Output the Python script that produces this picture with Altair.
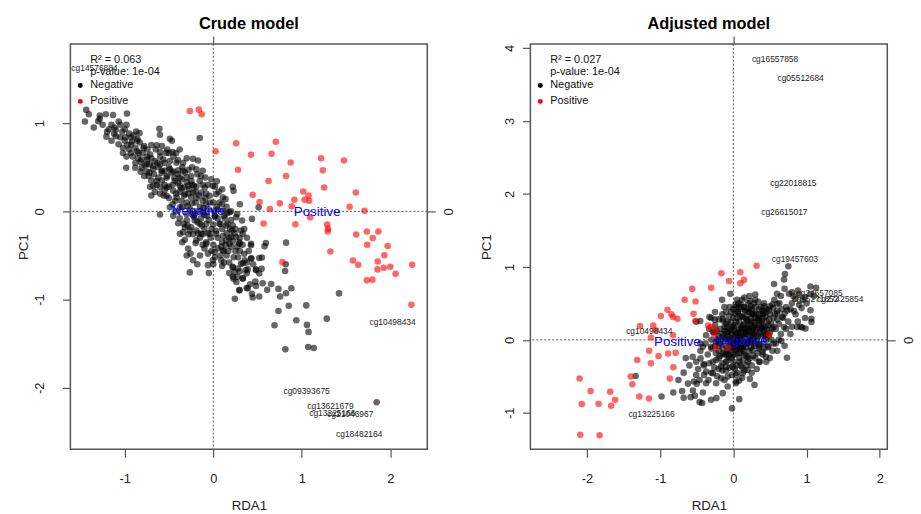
import altair as alt
import pandas as pd

# ---------------- data: Crude model ----------------
CRUDE_NEG = [
    (-1.435, 1.149), (-1.405, 1.10), (-1.45, 1.018), (-1.282, 1.085), (-1.282, 1.048), (-1.214, 1.10),
    (-1.132, 1.092), (-0.975, 1.107), (-1.069, 1.018), (-1.207, 0.846), (-1.102, 0.924), (-1.117, 0.95),
    (-1.028, 0.905), (-0.994, 0.838), (-0.927, 0.756), (-0.871, 0.905), (-0.833, 0.887), (-0.856, 0.823),
    (-0.93, 0.838), (-0.609, 0.935), (-0.602, 0.868), (-0.49, 0.823), (-0.467, 0.80), (-0.153, 0.831),
    (-0.639, 0.748), (-0.744, 0.70), (-0.788, 0.718), (-0.845, 0.662), (-0.811, 0.587), (-0.744, 0.587),
    (-0.714, 0.643), (-0.602, 0.673), (-0.534, 0.662), (-0.46, 0.673), (-0.564, 0.587), (-0.602, 0.531),
    (-0.676, 0.513), (-0.751, 0.539), (-0.721, 0.438), (-0.807, 0.494), (-0.882, 0.494), (-0.983, 0.494),
    (-0.49, 0.569), (-0.415, 0.55), (-0.34, 0.55), (-0.228, 0.595), (-0.172, 0.576), (-0.191, 0.475),
    (-0.34, 0.456), (-0.396, 0.464), (-0.49, 0.475), (-0.583, 0.438), (-0.527, 0.382), (-0.639, 0.344),
    (-0.676, 0.288), (-0.714, 0.277), (-0.602, 0.277), (-0.527, 0.269), (-0.434, 0.344), (-0.377, 0.382),
    (-0.303, 0.382), (-0.247, 0.344), (-0.153, 0.344), (-0.09, 0.382), (-0.022, 0.363), (-0.004, 0.288),
    (-0.097, 0.269), (-0.191, 0.277), (-0.284, 0.288), (-0.377, 0.288), (-0.452, 0.232), (-0.527, 0.176),
    (-0.415, 0.157), (-0.321, 0.195), (-0.228, 0.213), (-0.135, 0.213), (-0.041, 0.176), (0.034, 0.195),
    (0.108, 0.157), (0.22, 0.277), (0.228, 0.232), (0.138, 0.138), (-0.602, -0.037), (-0.49, 0.045),
    (-0.377, 0.045), (-0.396, -0.135), (-0.377, -0.254), (-0.321, -0.322), (-0.265, -0.217), (-0.284, -0.423),
    (-0.258, -0.479), (-0.228, -0.554), (-0.265, -0.692), (-0.191, -0.329), (-0.191, -0.217), (-0.153, -0.142),
    (-0.135, -0.254), (-0.078, -0.367), (-0.06, -0.479), (-0.06, -0.61), (-0.004, -0.554), (0.015, -0.46),
    (0.09, -0.554), (0.108, -0.441), (0.183, -0.367), (0.146, -0.329), (0.202, -0.292), (0.258, -0.292),
    (0.295, -0.367), (0.314, -0.217), (0.325, -0.105), (0.258, -0.067), (0.22, -0.161), (0.146, -0.161),
    (0.071, -0.142), (0.034, -0.254), (-0.041, -0.254), (-0.078, -0.142), (0.015, -0.049), (0.108, 0.007),
    (0.183, -0.011), (-0.116, -0.011), (-0.209, -0.03), (-0.303, -0.03), (-0.452, -0.049), (-0.333, -0.142),
    (-0.34, -0.236), (0.426, -0.367), (0.437, -0.086), (0.512, 0.045), (0.22, -0.629), (0.314, -0.591),
    (0.37, -0.666), (0.22, -0.741), (0.333, -0.759), (0.295, -0.89), (0.389, -0.872), (0.482, -0.666),
    (0.426, -0.535),
    # lower-right tail
    (0.822, -0.355), (0.594, -0.359), (0.579, -0.397), (1.42, -0.93), (1.282, -1.216), (1.05, -1.066),
    (1.076, -1.366), (1.058, -1.287), (0.938, -1.235), (0.852, -1.07), (0.736, -1.13), (0.691, -1.291),
    (0.882, -0.872), (0.822, -0.928), (0.755, -0.965), (0.736, -0.879), (0.811, -0.677), (0.818, -0.599),
    (0.654, -0.823), (0.609, -0.89), (0.519, -0.965), (0.445, -0.977), (0.437, -0.935), (0.377, -0.868),
    (0.295, -0.898), (0.243, -0.991), (0.482, -0.846), (0.557, -0.816), (0.475, -0.797), (0.519, -0.703),
    (0.482, -0.658), (0.546, -0.651), (0.519, -0.528), (0.549, -0.524), (0.43, -0.531), (0.355, -0.554),
    (0.333, -0.591), (0.22, -0.636), (0.277, -0.647), (0.389, -0.658), (0.377, -0.703), (0.333, -0.763),
    (0.273, -0.741), (0.228, -0.763), (0.243, -0.688), (0.415, -0.827), (0.426, -0.385), (0.295, -0.352),
    (0.333, -0.254), (0.814, -1.564), (1.072, -1.538), (1.136, -1.549), (1.845, -2.163),
    # dense band
    (-1.05, 0.98), (-1.0, 0.93), (-0.95, 0.88), (-0.9, 0.86), (-0.92, 0.79), (-0.88, 0.72), (-0.83, 0.78),
    (-0.78, 0.74), (-0.8, 0.66), (-0.75, 0.62), (-0.7, 0.6), (-0.66, 0.57), (-0.72, 0.53), (-0.68, 0.48),
    (-0.62, 0.5), (-0.58, 0.46), (-0.6, 0.62), (-0.55, 0.55), (-0.5, 0.5), (-0.47, 0.44), (-0.52, 0.4),
    (-0.44, 0.38), (-0.4, 0.42), (-0.36, 0.36), (-0.3, 0.33), (-0.33, 0.27), (-0.27, 0.25), (-0.22, 0.29),
    (-0.2, 0.22), (-0.16, 0.18), (-0.25, 0.16), (-0.3, 0.1), (-0.2, 0.1), (-0.12, 0.12), (-0.08, 0.08),
    (-0.15, 0.05), (-0.05, 0.02), (-0.1, -0.04), (-0.22, -0.06), (-0.3, -0.1), (-0.18, -0.12), (-0.05, -0.1),
    (0.05, -0.08), (0.0, -0.15), (-0.1, -0.2), (-0.25, -0.18), (0.1, -0.2), (0.15, -0.25), (0.05, -0.3),
    (-0.03, -0.3), (-0.15, -0.3), (0.1, -0.35), (0.2, -0.4), (0.25, -0.45), (0.05, -0.42), (-0.1, -0.42),
    (0.15, -0.5), (0.28, -0.52), (0.18, -0.58), (-0.15, -0.5), (0.0, -0.38), (-0.35, 0.05), (-0.42, 0.2),
    (-0.55, 0.3), (-0.62, 0.38), (-0.75, 0.45), (-0.85, 0.6), (-0.95, 0.7), (-1.1, 0.85), (-1.15, 0.98),
    (-0.7, 0.75), (-0.65, 0.7), (-0.52, 0.7), (-0.45, 0.62), (-0.4, 0.58), (-0.35, 0.5), (-0.28, 0.47),
    (-0.25, 0.4), (-0.12, 0.3), (-0.08, 0.2), (0.0, 0.1), (0.05, 0.02), (0.12, -0.05), (0.2, -0.1),
    (0.18, -0.3), (0.3, -0.3), (0.25, -0.2),
    (-1.3, 1.02), (-1.25, 0.98), (-1.18, 0.93), (-1.12, 0.88), (-1.05, 0.84), (-1.0, 0.8), (-0.97, 0.75),
    (-1.02, 0.72), (-0.93, 0.66), (-0.86, 0.68), (-0.82, 0.56), (-0.77, 0.52), (-0.73, 0.4), (-0.67, 0.42),
    (-0.64, 0.3), (-0.58, 0.35), (-0.55, 0.24), (-0.5, 0.28), (-0.46, 0.3), (-0.43, 0.12), (-0.38, 0.22),
    (-0.36, 0.12), (-0.33, 0.18), (-0.29, 0.06), (-0.26, 0.02), (-0.24, 0.09), (-0.21, -0.1), (-0.17, 0.0),
    (-0.14, -0.08), (-0.11, 0.04), (-0.07, -0.05), (-0.04, 0.1), (-0.02, -0.2), (0.02, -0.06), (0.04, 0.05),
    (0.08, -0.14), (0.11, -0.28), (0.13, -0.08), (0.16, -0.14), (0.19, -0.2), (0.22, -0.34), (0.24, -0.25),
    (0.27, -0.4), (0.3, -0.45), (0.33, -0.38), (0.35, -0.48), (0.23, -0.52), (0.12, -0.45), (0.08, -0.5),
    (0.02, -0.52), (-0.08, -0.35), (-0.12, -0.38), (-0.2, -0.36), (-0.23, -0.26), (-0.28, -0.26),
    (-0.32, -0.18), (-0.38, -0.08), (-0.42, 0.0), (-0.46, 0.08), (-0.5, 0.15), (-0.56, 0.18), (-0.6, 0.2),
    (-0.66, 0.22), (-0.7, 0.35), (-0.78, 0.4), (-0.82, 0.45), (-0.88, 0.55), (-0.91, 0.62), (-0.98, 0.62),
    (-1.02, 0.66), (-1.07, 0.76), (-1.15, 0.8), (-1.2, 0.9), (-1.35, 0.95), (-0.58, 0.74), (-0.5, 0.66),
    (-0.42, 0.66), (-0.38, 0.7), (-0.3, 0.6), (-0.32, 0.44), (-0.24, 0.5), (-0.18, 0.42), (-0.12, 0.46),
    (-0.06, 0.3), (0.02, 0.28), (0.06, 0.22), (0.04, 0.34), (0.1, 0.25), (0.15, 0.05), (0.2, 0.0),
    (0.27, -0.03), (0.3, 0.08), (0.35, -0.2), (0.38, -0.3), (0.4, -0.45), (0.45, -0.6), (0.38, -0.58),
    (0.3, -0.68), (0.26, -0.8), (0.18, -0.7), (0.1, -0.62), (-0.05, -0.7), (-0.18, -0.6), (-0.3, -0.5),
    (-0.35, -0.35), (-0.7, 0.18),
    (-0.28, 0.2), (-0.24, -0.03), (-0.19, 0.15), (-0.13, -0.16), (-0.09, 0.15), (-0.06, -0.25), (0.01, 0.0),
    (0.03, -0.22), (0.07, 0.1), (0.09, -0.4), (0.14, -0.38), (0.17, -0.45), (0.21, -0.22), (-0.02, -0.45),
    (-0.17, -0.25), (-0.36, 0.26), (-0.4, 0.32), (-0.45, 0.45), (-0.55, 0.46), (-0.63, 0.55), (-0.86, 0.8),
    (-0.98, 0.98), (-0.24, 0.3), (-0.14, 0.4), (0.1, 0.08), (0.16, -0.02), (-0.29, -0.16), (-0.12, -0.26),
    (0.0, -0.6), (0.12, -0.58),
]
CRUDE_POS = [
    (-0.265, 1.137), (-0.164, 1.152), (-0.131, 1.10), (0.026, 0.681), (0.258, 0.771), (0.706, 0.789),
    (0.426, 0.64), (0.658, 0.651), (0.28, 0.471), (0.874, 0.554), (1.218, 0.602), (1.476, 0.576),
    (1.237, 0.464), (0.822, 0.40), (0.624, 0.344), (1.252, 0.269), (1.61, 0.213), (0.445, 0.187),
    (0.523, 0.105), (0.751, 0.09), (0.916, 0.131), (1.016, 0.224), (1.076, 0.18), (1.031, 0.131),
    (1.084, 0.12), (0.886, 0.056), (0.639, 0.026), (1.54, 0.052), (1.708, 0.007), (1.095, -0.067),
    (0.568, -0.138), (0.927, -0.146), (1.286, -0.15), (1.297, -0.198), (1.293, -0.228), (1.614, -0.262),
    (1.734, -0.228), (1.865, -0.228), (1.801, -0.303), (1.738, -0.378), (1.969, -0.393), (1.323, -0.456),
    (1.932, -0.498), (1.577, -0.557), (1.637, -0.606), (1.857, -0.569), (1.925, -0.64), (1.999, -0.629),
    (1.854, -0.658), (2.059, -0.707), (2.246, -0.606), (1.734, -0.782), (1.797, -0.774), (0.781, -0.576),
    (2.238, -1.059),
]
CRUDE_GENES = ["cg14576884", "cg10498434", "cg09393675", "cg13621679", "cg13225166", "cg21046967", "cg18482164"]
CRUDE_GENE_X = [-1.342, 2.025, 1.054, 1.323, 1.345, 1.547, 1.648]
CRUDE_GENE_Y = [1.624, -1.254, -2.04, -2.208, -2.282, -2.293, -2.525]
CRUDE_CENT = ["Negative", "Positive"]
CRUDE_CENT_X = [-0.173, 1.173]
CRUDE_CENT_Y = [0.0, -0.01]
CRUDE_STATS = ["R\u00b2 = 0.063", "p-value: 1e-04"]

# ---------------- data: Adjusted model ----------------
ADJ_NEG = [
    (0.751, 1.007), (0.706, 0.902), (0.692, 0.825), (0.556, 0.766), (0.597, 0.63), (0.76, 0.63),
    (0.882, 0.676), (1.054, 0.73), (1.131, 0.712), (1.054, 0.63), (0.977, 0.585), (0.85, 0.562),
    (0.932, 0.435), (1.054, 0.404), (1.067, 0.29), (1.067, 0.245), (0.873, 0.177), (0.941, 0.168),
    (0.986, 0.154), (0.737, 0.404), (0.828, 0.395), (0.669, 0.313), (0.692, 0.177), (0.656, -0.014),
    (0.733, -0.245), (0.534, -0.15), (0.443, -0.231), (0.579, -0.05), (0.479, -0.086), (0.353, -0.299),
    (0.289, -0.617), (0.226, -0.535), (0.081, -0.558), (0.036, -0.571), (0.081, -0.812), (-0.018, -0.939),
    (-0.1, -0.367), (-0.167, -0.526), (-0.145, -0.73), (-0.303, -0.821), (-0.231, -0.798), (-0.416, -0.721),
    (-0.525, -0.766), (-0.678, -0.794), (-0.583, -0.785), (-0.461, -0.853), (-0.425, -0.866), (-0.552, -0.694),
    (-0.538, -0.571), (-0.507, -0.481), (-0.461, -0.549), (-0.371, -0.594), (-0.339, -0.549), (-0.678, -0.449),
    (-0.556, -0.231), (-0.507, -0.299), (-0.448, -0.254), (-0.407, -0.331), (-0.371, -0.435), (-0.981, -0.776),
    (-1.334, -0.494), (-0.154, 0.549), (-0.041, 0.63), (-0.122, 0.449), (-0.507, 0.249), (-0.452, 0.259),
    (-0.326, 0.313), (-0.253, 0.277), (0.036, 0.449), (0.149, 0.449), (0.226, 0.531), (0.298, 0.549),
    (0.421, 0.458), (0.534, 0.485), (0.488, 0.404), (0.602, 0.494), (0.602, 0.358), (0.398, 0.358),
    (0.547, 0.177), (0.443, 0.077), (0.398, 0.154), (0.353, 0.268), (0.262, 0.358), (0.217, 0.426),
    (0.194, 0.268), (0.127, 0.313), (0.059, 0.381), (-0.032, 0.245), (-0.09, 0.177), (-0.145, 0.29),
    (0.036, 0.086), (0.104, 0.177), (0.172, 0.109), (0.262, 0.132), (0.307, 0.041), (0.24, -0.005),
    (0.127, -0.095), (0.036, -0.141), (-0.054, -0.231), (-0.145, -0.186), (-0.235, -0.277), (-0.167, -0.367),
    (-0.009, -0.367), (0.081, -0.299), (0.194, -0.231), (0.262, -0.141), (0.353, -0.095), (0.398, -0.163),
    (0.194, -0.413), (0.127, -0.458), (0.036, -0.481), (-0.077, -0.503), (-0.28, -0.458), (-0.235, -0.594),
    (-0.077, -0.639), (0.036, -0.594), (-0.303, -0.095), (-0.235, -0.027), (-0.145, 0.041), (-0.077, 0.109),
    (-0.28, 0.109), (-0.371, 0.063), (-0.416, -0.095),
    # dense core
    (0.0, 0.0), (0.05, 0.05), (0.1, 0.1), (0.15, 0.15), (0.2, 0.2), (0.25, 0.25), (0.3, 0.3), (0.35, 0.35),
    (0.4, 0.3), (0.45, 0.25), (0.35, 0.2), (0.3, 0.12), (0.25, 0.05), (0.2, -0.02), (0.15, -0.06),
    (0.08, -0.1), (0.0, -0.05), (-0.05, 0.03), (-0.1, -0.08), (-0.15, -0.02), (-0.2, 0.05), (-0.12, 0.12),
    (-0.05, 0.15), (0.02, 0.2), (0.08, 0.25), (0.12, 0.32), (0.18, 0.38), (0.25, 0.42), (0.3, 0.45),
    (0.4, 0.4), (0.5, 0.35), (0.55, 0.3), (0.48, 0.2), (0.42, 0.12), (0.38, 0.05), (0.32, -0.02),
    (0.28, -0.08), (0.22, -0.15), (0.15, -0.2), (0.08, -0.25), (0.02, -0.2), (-0.05, -0.15), (-0.12, -0.2),
    (-0.2, -0.15), (-0.25, -0.08), (-0.18, 0.15), (-0.25, 0.2), (-0.1, 0.22), (0.0, 0.3), (0.06, 0.38),
    (0.14, 0.45), (0.2, 0.5), (0.1, 0.05), (0.18, 0.08), (0.05, -0.02), (-0.02, 0.08), (0.12, -0.12),
    (0.2, -0.3), (0.1, -0.35), (0.0, -0.3), (-0.08, -0.28), (-0.15, -0.32), (-0.2, -0.4), (-0.1, -0.42),
    (0.05, -0.45), (0.15, -0.42), (0.25, -0.35), (0.3, -0.25), (0.35, -0.12), (0.45, 0.0), (0.5, 0.1),
    (0.58, 0.15), (0.62, 0.22), (0.6, 0.4), (0.68, 0.3), (0.72, 0.45), (0.8, 0.5), (0.85, 0.35),
    (0.75, 0.25), (0.65, 0.08), (0.55, -0.05), (0.02, 0.12), (-0.08, 0.25), (-0.15, 0.35), (0.07, 0.5),
    (0.0, 0.42), (-0.05, -0.38), (0.28, 0.18), (0.22, 0.12), (0.15, 0.22), (0.35, 0.42), (0.42, 0.5),
    (0.25, 0.35), (-0.3, 0.0), (-0.35, -0.2), (-0.28, -0.3), (-0.4, -0.35), (-0.3, -0.45), (-0.45, -0.15),
    (-0.2, -0.25), (0.1, 0.42), (0.4, -0.2), (0.45, -0.3), (0.32, -0.4), (0.05, 0.3), (-0.02, -0.1),
    (-0.3, 0.3), (-0.25, 0.38), (-0.2, 0.28), (-0.18, -0.05), (-0.12, 0.02), (-0.08, 0.05), (-0.04, -0.02),
    (0.01, 0.04), (0.03, -0.08), (0.06, 0.1), (0.09, 0.02), (0.11, 0.16), (0.13, 0.06), (0.16, 0.02),
    (0.19, 0.14), (0.21, 0.06), (0.23, 0.22), (0.26, 0.1), (0.29, 0.24), (0.31, 0.36), (0.33, 0.28),
    (0.36, 0.1), (0.38, 0.22), (0.41, 0.36), (0.44, 0.18), (0.46, 0.42), (0.49, 0.28), (0.52, 0.22),
    (0.54, 0.44), (0.57, 0.36), (0.6, 0.28), (0.63, 0.5), (0.66, 0.42), (0.7, 0.36), (0.78, 0.42),
    (0.82, 0.6), (0.9, 0.48), (0.95, 0.55), (0.98, 0.3), (0.88, 0.25), (0.8, 0.18), (0.72, 0.15),
    (0.62, 0.0), (0.52, 0.0), (0.47, -0.1), (0.4, -0.05), (0.33, -0.18), (0.27, -0.22), (0.22, -0.26),
    (0.18, -0.35), (0.13, -0.28), (0.07, -0.18), (0.04, -0.35), (-0.02, -0.25), (-0.06, -0.2), (-0.1, -0.3),
    (-0.14, -0.12), (-0.18, -0.22), (-0.24, -0.18), (-0.3, -0.12), (-0.33, -0.32), (-0.38, -0.05),
    (-0.22, 0.0), (-0.26, 0.1), (-0.33, 0.15), (-0.12, 0.18), (-0.06, 0.32), (0.02, 0.36), (0.08, 0.45),
    (0.12, 0.55), (0.18, 0.28), (0.24, 0.3), (0.28, 0.5), (0.34, 0.52), (0.38, 0.45), (0.44, 0.32),
    (0.5, 0.46), (0.56, 0.55), (0.3, 0.62), (0.22, 0.6), (0.15, 0.58), (0.05, 0.55), (-0.05, 0.45),
    (-0.1, 0.38), (-0.02, 0.18), (0.07, 0.14), (0.14, 0.1), (0.2, 0.16), (0.27, 0.02), (0.12, -0.02),
    (0.06, -0.05), (0.0, -0.12), (-0.05, -0.08), (0.1, -0.18), (0.17, -0.1), (0.24, -0.1), (0.3, -0.05),
    (0.36, -0.3), (0.25, -0.45), (0.12, -0.52), (-0.02, -0.48), (-0.12, -0.55), (-0.22, -0.5), (-0.4, -0.48),
    (-0.48, -0.4), (-0.5, -0.6), (-0.62, -0.6), (-0.7, -0.7), (-0.82, -0.72), (-0.6, -0.35), (-0.65, -0.25),
    (-0.75, -0.55), (-0.45, -0.05), (0.65, 0.6), (0.7, 0.7), (0.8, 0.65), (0.9, 0.62), (1.0, 0.5),
    (1.1, 0.6), (0.92, 0.18), (0.78, 0.08), (0.7, -0.08), (0.6, -0.15), (0.5, -0.25),
    (0.0, 0.18), (0.04, 0.24), (0.09, 0.33), (0.13, 0.2), (0.17, 0.3), (0.21, 0.38), (0.26, 0.16),
    (0.3, 0.2), (0.34, 0.06), (0.37, 0.14), (0.43, 0.06), (0.46, 0.14), (0.1, -0.06), (0.06, 0.0),
    (0.02, -0.03), (-0.03, 0.12), (-0.07, 0.0), (-0.1, 0.1), (-0.14, 0.26), (-0.16, 0.08), (-0.2, -0.08),
    (-0.23, 0.12), (-0.08, -0.15), (0.0, -0.2), (0.05, -0.12), (0.14, -0.15), (0.19, -0.05), (0.23, -0.03),
    (0.28, 0.08), (0.32, 0.16), (0.39, 0.26), (0.44, 0.38), (0.48, 0.06), (0.53, 0.15), (0.16, 0.4),
    (0.1, 0.48), (0.03, 0.48), (-0.03, 0.38), (0.24, 0.46), (0.28, 0.36), (0.35, 0.3), (0.4, 0.18),
    (0.42, -0.12), (0.35, -0.06), (0.18, -0.22), (0.12, -0.38), (0.02, -0.4), (-0.1, -0.2), (-0.15, -0.42),
    (-0.26, -0.38),
]
ADJ_POS = [
    (0.317, 1.016), (0.095, 0.925), (-0.163, 0.912), (-0.059, 0.807), (0.145, 0.821), (0.095, 0.776),
    (-0.303, 0.712), (-0.561, 0.698), (-0.665, 0.549), (-0.516, 0.526), (-0.9, 0.413), (-0.543, 0.358),
    (-0.99, 0.327), (-0.846, 0.349), (-0.823, 0.313), (-0.764, 0.29), (-0.52, 0.259), (-1.094, 0.195),
    (-1.275, 0.19), (-1.058, 0.132), (-0.823, 0.063), (-1.126, 0.032), (-0.344, 0.195), (-0.303, 0.177),
    (-0.244, 0.145), (-0.258, 0.063), (-0.235, -0.109), (-0.068, -0.109), (0.488, 0.073), (-1.149, -0.15),
    (-1.022, -0.222), (-0.891, -0.186), (-0.787, -0.177), (-1.312, -0.277), (-1.126, -0.322), (-0.819, -0.376),
    (-1.402, -0.503), (-1.379, -0.608), (-0.868, -0.531), (-1.682, -0.712), (-1.615, -0.821), (-1.669, -0.902),
    (-1.284, -0.776), (-1.153, -0.803), (-1.841, -0.875), (-1.827, -1.306), (-2.09, -1.30),
    (-1.95, -0.70), (-2.07, -0.88), (-2.10, -0.53),
]
ADJ_GENES = ["cg16557858", "cg05512684", "cg22018815", "cg26615017", "cg19457603", "cg24657085",
             "cg15271852", "cg27425854", "cg10498434", "cg13225166"]
ADJ_GENE_X = [0.57, 0.919, 0.82, 0.697, 0.841, 1.177, 1.12, 1.46, -1.148, -1.117]
ADJ_GENE_Y = [3.84, 3.59, 2.154, 1.755, 1.11, 0.644, 0.56, 0.56, 0.122, -1.012]
ADJ_CENT = ["Positive", "Negative"]
ADJ_CENT_X = [-0.764, 0.104]
ADJ_CENT_Y = [-0.03, -0.01]
ADJ_STATS = ["R\u00b2 = 0.027", "p-value: 1e-04"]

FONT = "Liberation Sans"
TICK = "#555555"


def panel(neg, pos, gnames, gx, gy, cnames, cx, cy, stats, xdom, ydom, xticks, yticks,
          title, ylab_pad, ytitle_x):
    pts = pd.DataFrame(
        [{"RDA1": a, "PC1": b, "group": "Negative"} for a, b in neg]
        + [{"RDA1": a, "PC1": b, "group": "Positive"} for a, b in pos]
    )
    genes = pd.DataFrame({"x": gx, "y": gy, "name": gnames})
    cents = pd.DataFrame({"x": cx, "y": cy, "name": cnames})
    zero = pd.DataFrame({"z": [0.0]})
    xs = alt.Scale(domain=xdom, nice=False, zero=False)
    ys = alt.Scale(domain=ydom, nice=False, zero=False)

    common = dict(domain=False, grid=False, tickColor=TICK, tickWidth=1.2, tickSize=8,
                  labelFont=FONT, labelFontSize=13, labelColor="#222222",
                  labelExpr="'' + datum.value")
    tcommon = dict(titleFont=FONT, titleFontSize=13.4, titleFontWeight="normal", titleColor="#222222")

    vline = alt.Chart(zero).mark_rule(color="#555555", strokeDash=[2, 2], strokeWidth=1).encode(
        x=alt.X("z:Q", scale=xs, axis=None))
    hline = alt.Chart(zero).mark_rule(color="#555555", strokeDash=[2, 2], strokeWidth=1).encode(
        y=alt.Y("z:Q", scale=ys, axis=None))

    points = alt.Chart(pts).mark_circle(size=44, opacity=0.6).encode(
        x=alt.X("RDA1:Q", scale=xs, axis=alt.Axis(
            orient="bottom", values=xticks, labelPadding=15, title="RDA1",
            titleY=57, titleX=180, titleBaseline="middle", titleAlign="center", **common, **tcommon)),
        y=alt.Y("PC1:Q", scale=ys, axis=alt.Axis(
            orient="left", values=yticks, labelAngle=-90, labelAlign="center", labelBaseline="bottom",
            labelPadding=ylab_pad, title="PC1", titleAngle=-90, titleX=ytitle_x, titleY=204.5,
            titleAlign="center", titleBaseline="middle", **common, **tcommon)),
        color=alt.Color("group:N", scale=alt.Scale(domain=["Negative", "Positive"],
                                                   range=["#000000", "#ff0000"]),
                        legend=alt.Legend(orient="none", legendX=4.5, legendY=36.5, title=None,
                                          symbolType="circle", symbolSize=25, symbolOpacity=1,
                                          symbolStrokeWidth=0, labelFont=FONT, labelFontSize=11,
                                          labelColor="#111111", labelOffset=4.5, rowPadding=4,
                                          padding=0)),
    )

    guides = alt.Chart(zero).mark_point(opacity=0).encode(
        x=alt.X("z:Q", scale=xs, axis=alt.Axis(orient="top", values=[0], labels=False, title="",
                                               domain=False, grid=False, tickColor=TICK,
                                               tickWidth=1.2, tickSize=8)),
        y=alt.Y("z:Q", scale=ys, axis=alt.Axis(orient="right", values=[0], labelAngle=-90,
                                               labelAlign="center", labelBaseline="top",
                                               labelPadding=7, title="", **common)),
    )

    gene_txt = alt.Chart(genes).mark_text(font=FONT, fontSize=8.5, color="#222222").encode(
        x=alt.X("x:Q", scale=xs, axis=None), y=alt.Y("y:Q", scale=ys, axis=None), text="name:N")
    cent_txt = alt.Chart(cents).mark_text(font=FONT, fontSize=13.5, color="#0000ff").encode(
        x=alt.X("x:Q", scale=xs, axis=None), y=alt.Y("y:Q", scale=ys, axis=None), text="name:N")

    stat_layers = []
    for i, line in enumerate(stats):
        stat_layers.append(
            alt.Chart(pd.DataFrame({"t": [line]})).mark_text(
                font=FONT, fontSize=11, align="left", baseline="alphabetic", color="#111111"
            ).encode(x=alt.value(20), y=alt.value(19.5 + 11.5 * i), text="t:N")
        )

    return alt.layer(vline, hline, points, guides, gene_txt, cent_txt, *stat_layers).resolve_scale(
        x="independent", y="independent"
    ).properties(
        width=360, height=409,
        title=alt.TitleParams(title, font=FONT, fontSize=16.5, fontWeight="bold", color="#000000",
                              anchor="middle", frame="group", baseline="alphabetic", offset=-10),
    )


left = panel(CRUDE_NEG, CRUDE_POS, CRUDE_GENES, CRUDE_GENE_X, CRUDE_GENE_Y,
             CRUDE_CENT, CRUDE_CENT_X, CRUDE_CENT_Y, CRUDE_STATS,
             [-1.614, 2.417], [-2.697, 1.897], [-1, 0, 1, 2], [-2, -1, 0, 1],
             "Crude model", 16, -47)
right = panel(ADJ_NEG, ADJ_POS, ADJ_GENES, ADJ_GENE_X, ADJ_GENE_Y,
              ADJ_CENT, ADJ_CENT_X, ADJ_CENT_Y, ADJ_STATS,
              [-2.772, 2.103], [-1.50, 4.054], [-2, -1, 0, 1, 2], [-1, 0, 1, 2, 3, 4],
              "Adjusted model", 6, -44)

chart = alt.HConcatChart(hconcat=[left, right], spacing=104, bounds="flush").resolve_scale(
    color="independent"
).properties(
    padding={"left": 16, "top": 13, "right": 5, "bottom": 5}
).configure(font=FONT).configure_view(stroke="#555555", strokeWidth=1.5)

chart.save("out.html", embed_options={"renderer": "svg", "actions": False})
